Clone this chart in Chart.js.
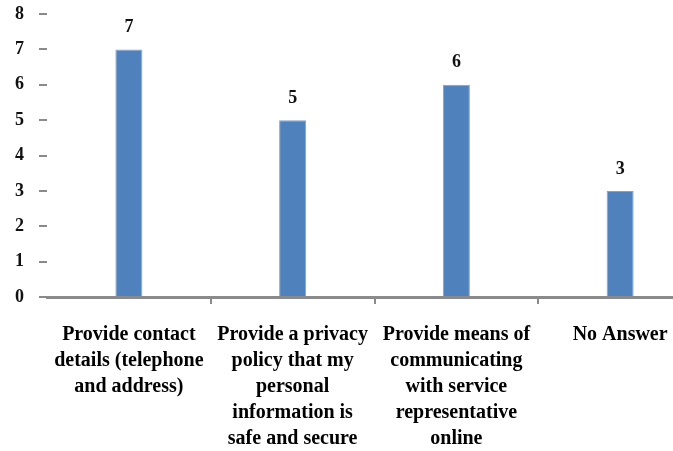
<!DOCTYPE html>
<html>
<head>
<meta charset="utf-8">
<script src="https://cdn.jsdelivr.net/npm/chart.js@4/dist/chart.umd.min.js"></script>
<style>
  html, body { margin: 0; padding: 0; background: #fff; overflow: hidden; width: 673px; height: 451px; }
  canvas { display: block; }
</style>
</head>
<body>
<canvas id="chart" width="702" height="451"></canvas>
<script>
// Survey answers: what a provider should offer to build trust
const categories = [
  ['Provide contact', 'details (telephone', 'and address)'],
  ['Provide a privacy', 'policy that my', 'personal', 'information is', 'safe and secure'],
  ['Provide means of', 'communicating', 'with service', 'representative', 'online'],
  ['No Answer']
];
const responses = [7, 5, 6, 3];
const yTicks = [0, 1, 2, 3, 4, 5, 6, 7, 8];

const serif = "'Liberation Serif', 'Times New Roman', serif";

// Writes each bar's value just above it
const valueLabels = {
  id: 'valueLabels',
  afterDatasetsDraw(chart) {
    const ctx = chart.ctx;
    ctx.save();
    ctx.font = 'bold 18px ' + serif;
    ctx.fillStyle = '#111';
    ctx.textAlign = 'center';
    ctx.textBaseline = 'middle';
    chart.data.datasets.forEach((ds, di) => {
      chart.getDatasetMeta(di).data.forEach((bar, i) => {
        ctx.fillText(String(ds.data[i]), bar.x, bar.y - 22);
      });
    });
    ctx.restore();
  }
};

new Chart(document.getElementById('chart'), {
  type: 'bar',
  data: {
    labels: categories,
    datasets: [{
      data: responses,
      backgroundColor: '#4F81BD',
      borderColor: '#7FA3D0',
      borderWidth: 1,
      barPercentage: 0.165,
      categoryPercentage: 1
    }]
  },
  options: {
    responsive: false,
    animation: false,
    layout: { padding: { top: 14, right: 0, bottom: 0, left: 0 } },
    plugins: {
      legend: { display: false },
      tooltip: { enabled: false }
    },
    scales: {
      x: {
        offset: true,
        afterFit(scale) { scale.height = 154; },
        border: { display: true, color: '#8a8a8a', width: 3 },
        grid: {
          offset: true,
          drawOnChartArea: false,
          tickLength: 7,
          lineWidth: 2,
          color: (c) => (c.index === 0 ? 'rgba(0,0,0,0)' : '#8a8a8a')
        },
        ticks: {
          autoSkip: false,
          maxRotation: 0,
          minRotation: 0,
          padding: 18,
          color: '#000',
          font: { family: serif, weight: 'bold', size: 20, lineHeight: 1.3 }
        }
      },
      y: {
        min: 0,
        max: 8,
        afterFit(scale) {
          scale.width = 47;
          scale.paddingTop = 0;
          scale.paddingBottom = 0;
        },
        afterBuildTicks(scale) { scale.ticks = yTicks.map(v => ({ value: v })); },
        border: { display: false },
        grid: {
          drawOnChartArea: false,
          tickLength: 8,
          lineWidth: 2,
          color: '#8a8a8a'
        },
        ticks: {
          padding: 15,
          color: '#111',
          font: { family: serif, weight: 'bold', size: 18 }
        }
      }
    }
  },
  plugins: [valueLabels]
});
</script>
</body>
</html>
